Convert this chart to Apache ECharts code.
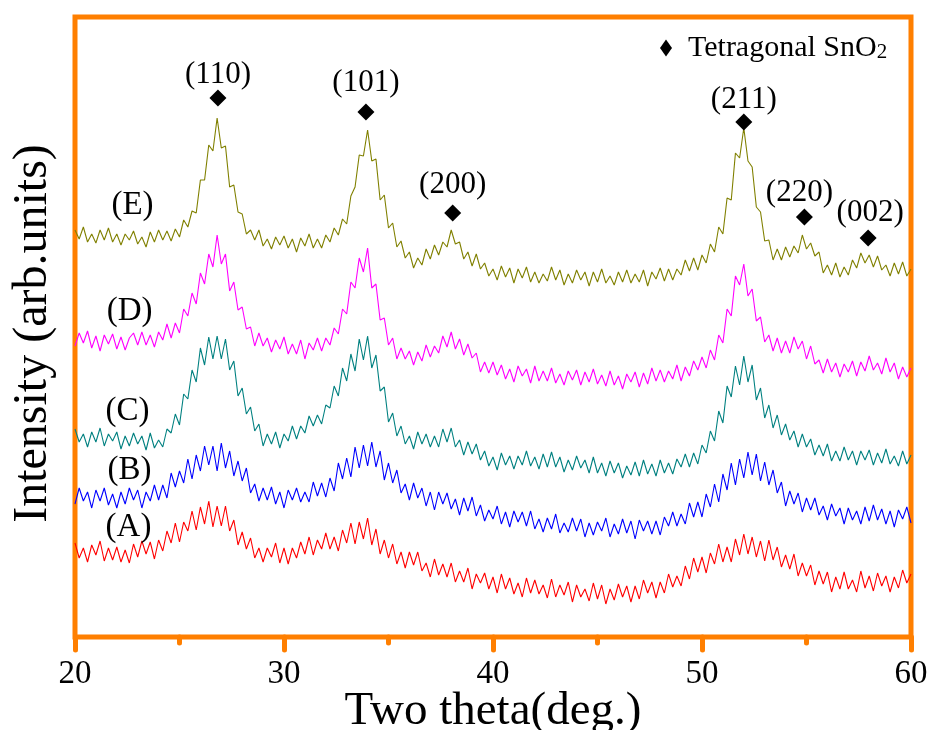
<!DOCTYPE html>
<html>
<head>
<meta charset="utf-8">
<script src="https://cdn.jsdelivr.net/npm/echarts@6/dist/echarts.min.js"></script>
<style>
html,body{margin:0;padding:0;background:#fff;}
#chart{width:931px;height:730px;}
</style>
</head>
<body>
<div id="chart"></div>
<script>
// ---- data (intensity in arbitrary units) ----
const twoTheta = [
20,20.2,20.4,20.6,20.8,21,21.2,21.4,21.6,21.8,
22,22.2,22.4,22.6,22.8,23,23.2,23.4,23.6,23.8,
24,24.2,24.4,24.6,24.8,25,25.2,25.4,25.6,25.8,
26,26.2,26.4,26.6,26.8,27,27.2,27.4,27.6,27.8,
28,28.2,28.4,28.6,28.8,29,29.2,29.4,29.6,29.8,
30,30.2,30.4,30.6,30.8,31,31.2,31.4,31.6,31.8,
32,32.2,32.4,32.6,32.8,33,33.2,33.4,33.6,33.8,
34,34.2,34.4,34.6,34.8,35,35.2,35.4,35.6,35.8,
36,36.2,36.4,36.6,36.8,37,37.2,37.4,37.6,37.8,
38,38.2,38.4,38.6,38.8,39,39.2,39.4,39.6,39.8,
40,40.2,40.4,40.6,40.8,41,41.2,41.4,41.6,41.8,
42,42.2,42.4,42.6,42.8,43,43.2,43.4,43.6,43.8,
44,44.2,44.4,44.6,44.8,45,45.2,45.4,45.6,45.8,
46,46.2,46.4,46.6,46.8,47,47.2,47.4,47.6,47.8,
48,48.2,48.4,48.6,48.8,49,49.2,49.4,49.6,49.8,
50,50.2,50.4,50.6,50.8,51,51.2,51.4,51.6,51.8,
52,52.2,52.4,52.6,52.8,53,53.2,53.4,53.6,53.8,
54,54.2,54.4,54.6,54.8,55,55.2,55.4,55.6,55.8,
56,56.2,56.4,56.6,56.8,57,57.2,57.4,57.6,57.8,
58,58.2,58.4,58.6,58.8,59,59.2,59.4,59.6,59.8,
60];

const intensityE = [
407,398,410,395,403,394,407,397,409,395,
403,392,403,397,406,393,400,390,405,395,
407,397,406,396,408,400,417,410,426,424,
457,457,492,486,519,489,491,450,452,425,
423,403,407,397,407,391,398,388,400,392,
401,389,398,385,399,391,403,389,398,389,
402,395,409,402,418,413,441,450,482,481,
507,476,478,437,442,409,414,390,396,379,
385,369,379,372,388,378,392,382,395,390,
407,393,395,378,385,371,383,368,374,361,
368,357,371,360,369,354,368,359,370,355,
365,354,363,356,370,357,367,352,363,354,
367,357,365,351,365,355,368,354,361,352,
365,355,367,354,363,355,367,351,365,358,
369,356,368,357,368,362,377,366,379,367,
382,374,393,385,410,403,439,437,484,479,
509,476,470,430,425,396,397,377,388,377,
390,380,391,384,402,388,394,381,385,364,
372,362,374,360,370,362,377,369,384,374,
382,370,381,367,372,361,374,363,375,361,
368];

const intensityD = [
291,304,294,306,289,301,286,302,293,303,
288,300,287,299,304,292,305,292,302,290,
305,297,313,299,314,304,328,321,344,333,
364,353,383,370,402,373,383,346,355,327,
330,308,310,291,304,291,299,285,297,288,
300,283,293,283,297,278,294,287,299,286,
299,292,309,303,328,323,355,349,379,365,
389,349,353,317,319,292,299,278,289,278,
286,272,285,276,292,280,291,284,301,290,
305,288,298,282,293,279,284,265,275,264,
275,262,272,258,268,255,271,261,268,254,
271,256,266,256,269,254,263,252,266,257,
267,252,265,255,268,253,262,251,266,252,
261,248,263,255,265,250,264,253,269,256,
267,255,266,258,272,256,270,261,276,267,
280,269,287,277,302,294,328,321,361,352,
373,341,348,316,320,295,302,286,299,284,
296,284,300,288,296,278,291,273,277,264,
278,265,274,260,273,265,276,261,275,266,
281,267,274,263,279,265,274,258,270,260,
269];

const intensityC = [
208,195,203,190,205,195,209,191,203,196,
205,188,201,191,204,193,201,187,204,189,
197,190,208,204,223,212,243,238,267,255,
289,272,300,278,301,278,298,267,276,241,
249,223,230,206,213,191,203,193,205,189,
203,196,211,198,211,204,221,211,222,213,
232,229,251,241,269,256,283,266,298,277,
301,269,282,246,250,215,224,201,211,193,
201,188,205,193,203,190,201,190,208,195,
209,190,197,182,195,183,193,177,186,171,
180,167,184,172,181,168,181,172,186,171,
180,168,183,170,185,170,180,165,177,167,
181,169,177,164,180,164,174,161,176,164,
174,159,171,162,175,161,177,163,173,161,
177,164,174,163,178,170,183,170,184,173,
192,184,206,196,226,214,251,240,271,252,
281,255,272,237,249,219,232,209,222,202,
213,197,206,190,203,190,198,182,192,181,
193,176,186,176,190,177,186,172,186,177,
187,172,184,174,188,173,181,171,186,173,
182];

const intensityB = [
133,149,136,145,129,147,136,149,132,143,
129,145,133,149,137,147,129,145,136,152,
137,152,139,164,150,166,154,178,158,182,
166,191,172,191,166,194,169,186,161,176,
156,169,144,153,136,149,137,150,133,145,
129,147,137,149,135,145,135,155,141,154,
140,159,146,174,158,179,160,190,169,192,
171,195,170,186,157,174,154,167,144,153,
137,154,139,149,131,145,127,145,133,144,
128,138,122,139,126,140,121,132,116,127,
118,131,113,125,110,126,115,125,111,126,
108,118,105,119,108,123,104,114,105,119,
106,118,100,114,102,115,106,119,100,113,
103,118,104,116,98,117,106,116,103,116,
102,120,111,125,111,123,113,134,120,135,
120,143,130,153,135,163,147,174,152,178,
159,185,162,183,156,175,152,167,144,155,
131,146,133,144,125,139,127,139,122,131,
117,133,121,129,113,129,117,126,113,130,
116,132,117,128,113,126,110,127,118,130,
114];

const intensityA = [
94,79,89,75,92,82,96,76,89,77,
90,75,87,74,93,80,96,83,95,78,
97,86,106,94,114,95,115,106,126,107,
130,113,136,110,131,111,131,106,117,92,
105,88,99,79,89,75,89,80,94,74,
89,73,89,79,95,83,100,82,97,88,
104,88,100,86,107,94,114,93,115,98,
119,92,108,83,97,79,93,73,85,69,
85,72,85,66,74,60,78,62,73,60,
74,55,66,55,69,48,63,54,64,48,
60,44,63,48,59,43,54,40,59,44,
57,43,52,39,58,40,52,42,55,35,
52,40,48,36,54,38,52,33,48,37,
53,40,51,35,51,38,57,44,55,39,
55,44,63,50,61,51,71,58,79,65,
80,64,84,73,93,75,90,75,98,82,
103,83,100,80,96,76,97,77,90,70,
82,68,83,61,74,61,72,52,66,53,
65,45,60,48,65,48,57,45,66,49,
61,46,64,51,61,45,60,49,67,54,
63];

// peak markers (tetragonal SnO2 reflections)
const peakLabels = ['(110)','(101)','(200)','(211)','(220)','(002)'];
const peakTheta  = [26.84, 33.92, 38.07, 52.0, 54.9, 57.95];
const peakMarkI  = [539, 525, 424, 515, 420, 399];

// sample labels
const sampleNames      = ['(A)','(B)','(C)','(D)','(E)'];
const sampleLabelTheta = [22.56, 22.61, 22.51, 22.61, 22.75];
const sampleLabelI     = [110, 167, 226, 326, 432];

const xTicks = [20, 30, 40, 50, 60];

// ---- styling ----
const ORANGE = '#FF7F00';
const FONT = "'Liberation Serif', 'Times New Roman', serif";
const peakLabelOffset = [[0,1],[0,-5],[0,-4],[0,2],[-5,0],[2,-1]];
const seriesDefs = [
  {name:'A', data:intensityA, color:'#FF0000'},
  {name:'B', data:intensityB, color:'#0000FF'},
  {name:'C', data:intensityC, color:'#008080'},
  {name:'D', data:intensityD, color:'#FF00FF'},
  {name:'E', data:intensityE, color:'#808000'}
];

const chart = echarts.init(document.getElementById('chart'), null, {renderer:'canvas'});

const lineSeries = seriesDefs.map(s => ({
  name: s.name,
  type: 'line',
  data: twoTheta.map((t, i) => [t, s.data[i]]),
  showSymbol: false,
  symbol: 'none',
  lineStyle: {width: 1.1, color: s.color},
  itemStyle: {color: s.color},
  silent: true,
  z: 2
}));

const option = {
  animation: false,
  backgroundColor: '#ffffff',
  grid: {left: 75, right: 20, top: 17, bottom: 93, show: true,
         outerBoundsMode: 'none', containLabel: false,
         borderColor: ORANGE, borderWidth: 5, backgroundColor: 'transparent'},
  xAxis: {
    type: 'value', min: xTicks[0], max: xTicks[xTicks.length - 1], interval: 10,
    axisLine: {show: false},
    axisTick: {show: true, length: 13, lineStyle: {color: ORANGE, width: 5, cap: 'round'}},
    minorTick: {show: true, splitNumber: 2, length: 6, lineStyle: {color: ORANGE, width: 5, cap: 'round'}},
    splitLine: {show: false},
    minorSplitLine: {show: false},
    axisLabel: {fontSize: 33, color: '#000', fontFamily: FONT, margin: 21},
    name: 'Two theta(deg.)', nameLocation: 'middle', nameGap: 51, nameMoveOverlap: false,
    nameTextStyle: {fontSize: 47, color: '#000', fontFamily: FONT}
  },
  yAxis: {
    type: 'value', min: 0, max: 620,
    axisLine: {show: false}, axisTick: {show: false}, axisLabel: {show: false},
    splitLine: {show: false},
    name: 'Intensity (arb.units)', nameLocation: 'middle', nameGap: 18, nameRotate: 90,
    nameTextStyle: {fontSize: 48, color: '#000', fontFamily: FONT, padding: [0, 13, 0, 0]}
  },
  legend: {
    data: [{name: 'Tetragonal SnO2', icon: 'diamond', itemStyle: {color: '#000', opacity: 1}}],
    left: 655, top: 28, itemWidth: 12, itemHeight: 17, selectedMode: false,
    formatter: () => 'Tetragonal SnO{sub|2}',
    textStyle: {fontSize: 30, color: '#000', fontFamily: FONT, padding: [0, 0, 0, 11],
      rich: {sub: {fontSize: 21, color: '#000', fontFamily: FONT, verticalAlign: 'bottom'}}}
  },
  series: lineSeries.concat([
    {
      name: 'Tetragonal SnO2', type: 'scatter', symbol: 'diamond', symbolSize: 17,
      itemStyle: {color: '#000', opacity: 1}, silent: true, z: 5,
      data: peakTheta.map((t, i) => ({value: [t, peakMarkI[i]], label: {offset: peakLabelOffset[i]}})),
      label: {show: true, position: 'top', distance: 0, fontSize: 31, color: '#000', opacity: 1,
              fontFamily: FONT, formatter: p => peakLabels[p.dataIndex]}
    },
    {
      name: 'samples', type: 'scatter', symbolSize: 0, silent: true, z: 6,
      itemStyle: {opacity: 1},
      data: sampleLabelTheta.map((t, i) => [t, sampleLabelI[i]]),
      label: {show: true, position: 'inside', fontSize: 33, color: '#000', opacity: 1,
              fontFamily: FONT, formatter: p => sampleNames[p.dataIndex]}
    }
  ])
};

chart.setOption(option);
</script>
</body>
</html>
